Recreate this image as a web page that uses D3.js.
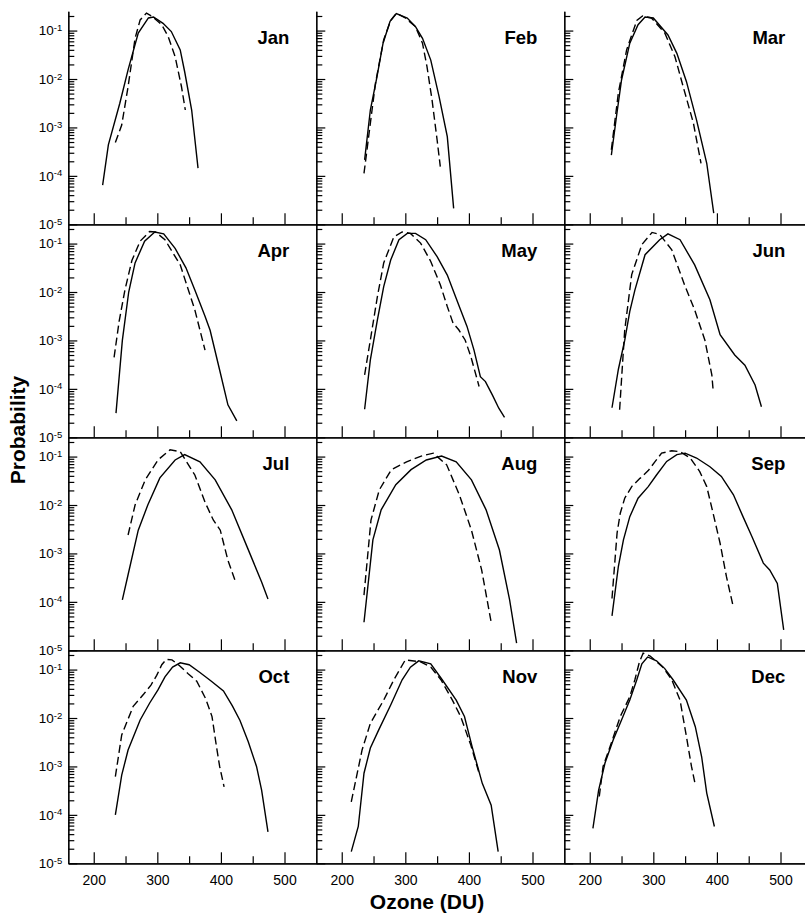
<!DOCTYPE html>
<html>
<head>
<meta charset="utf-8">
<script src="https://cdn.jsdelivr.net/npm/d3@7"></script>
<style>
  body { margin: 0; background: #fff; }
  svg { display: block; font-family: "Liberation Sans", Arial, Helvetica, sans-serif; }
</style>
</head>
<body>
<svg id="chart" width="805" height="914"></svg>
<script>
// points are [ozone DU, log10 probability]
const janSolid = [[214,-4.19],[223,-3.36],[241,-2.5],[254,-1.81],[270,-1.05],[286,-0.74],[294,-0.72],[309,-0.85],[322,-1.02],[336,-1.4],[343,-1.85],[354,-2.64],[364,-3.84]]
const janDashed = [[234,-3.31],[244,-2.95],[254,-2.16],[265,-1.16],[273,-0.78],[283,-0.64],[291,-0.70],[307,-0.88],[317,-1.12],[328,-1.54],[338,-2.16],[344,-2.64]]
const febSolid = [[236,-3.67],[245,-2.64],[255,-1.98],[265,-1.26],[276,-0.81],[286,-0.65],[303,-0.74],[316,-0.92],[327,-1.16],[340,-1.61],[353,-2.36],[366,-3.19],[376,-4.67]]
const febDashed = [[235,-3.95],[243,-3.12],[253,-2.09],[266,-1.19],[277,-0.79],[286,-0.64],[300,-0.74],[316,-0.92],[327,-1.26],[334,-1.74],[342,-2.43],[350,-3.26],[355,-3.81]]
const marSolid = [[234,-3.57],[242,-2.78],[250,-2.02],[263,-1.26],[276,-0.88],[287,-0.72],[300,-0.74],[323,-1.09],[337,-1.47],[352,-2.05],[368,-2.85],[384,-3.74],[395,-4.77]]
const marDashed = [[234,-3.46],[245,-2.29],[258,-1.40],[274,-0.79],[283,-0.70],[297,-0.74],[318,-1.05],[334,-1.54],[347,-2.16],[363,-2.91],[375,-3.74]]
const aprSolid = [[235,-4.5],[245,-3.0],[255,-2.0],[265,-1.4],[280,-0.95],[296,-0.76],[310,-0.80],[328,-1.1],[345,-1.5],[359,-1.96],[375,-2.5],[383,-2.79],[398,-3.61],[411,-4.33],[425,-4.66]]
const aprDashed = [[232,-3.35],[240,-2.6],[249,-1.96],[260,-1.35],[273,-0.95],[288,-0.75],[297,-0.76],[312,-0.92],[336,-1.44],[359,-2.37],[375,-3.2]]
const maySolid = [[236,-4.42],[245,-3.40],[256,-2.58],[266,-1.89],[277,-1.34],[290,-0.92],[303,-0.79],[316,-0.79],[332,-0.92],[350,-1.27],[366,-1.65],[379,-2.10],[387,-2.37],[397,-2.71],[408,-3.20],[418,-3.75],[426,-3.85],[437,-4.13],[447,-4.40],[456,-4.59]]
const mayDashed = [[236,-3.71],[245,-2.99],[256,-2.10],[266,-1.40],[282,-0.86],[295,-0.76],[308,-0.79],[324,-0.99],[340,-1.37],[355,-1.85],[366,-2.30],[375,-2.64],[384,-2.78],[394,-2.99],[403,-3.33],[416,-3.95]]
const junSolid = [[235,-4.39],[245,-3.6],[255,-3.0],[263,-2.4],[271,-1.96],[287,-1.23],[310,-0.92],[323,-0.80],[342,-0.92],[365,-1.44],[389,-2.16],[405,-2.88],[428,-3.30],[444,-3.51],[460,-3.92],[470,-4.37]]
const junDashed = [[247,-4.43],[251,-3.6],[255,-2.79],[266,-1.64],[282,-1.02],[298,-0.77],[310,-0.81],[329,-1.13],[349,-1.85],[365,-2.37],[381,-2.99],[392,-3.71],[394,-4.02]]
const julSolid = [[245,-3.96],[254,-3.44],[270,-2.52],[285,-2.0],[304,-1.44],[328,-1.07],[343,-0.96],[367,-1.11],[391,-1.48],[417,-2.10],[442,-2.89],[464,-3.59],[474,-3.94]]
const julDashed = [[254,-2.62],[265,-2.0],[281,-1.48],[301,-1.07],[320,-0.86],[336,-0.90],[359,-1.38],[375,-1.94],[388,-2.31],[399,-2.52],[411,-3.14],[422,-3.55]]
const augSolid = [[235,-4.42],[249,-2.72],[262,-2.10],[285,-1.58],[309,-1.27],[333,-1.07],[357,-0.99],[380,-1.11],[404,-1.48],[427,-2.10],[448,-2.93],[464,-3.96],[475,-4.85]]
const augDashed = [[235,-3.86],[246,-2.31],[259,-1.69],[278,-1.27],[302,-1.11],[325,-0.99],[344,-0.93],[365,-1.17],[385,-1.79],[404,-2.52],[420,-3.34],[435,-4.42]]
const sepSolid = [[235,-4.29],[245,-3.27],[253,-2.72],[263,-2.24],[276,-1.86],[292,-1.62],[305,-1.38],[321,-1.10],[337,-0.96],[350,-0.93],[368,-1.03],[389,-1.21],[407,-1.41],[426,-1.79],[441,-2.24],[455,-2.65],[473,-3.20],[483,-3.34],[495,-3.62],[505,-4.58]]
const sepDashed = [[235,-3.93],[243,-2.58],[248,-2.17],[255,-1.86],[266,-1.62],[279,-1.45],[292,-1.29],[303,-1.10],[313,-0.93],[329,-0.88],[342,-0.90],[358,-1.03],[373,-1.31],[384,-1.62],[394,-2.17],[405,-2.79],[415,-3.48],[425,-4.06]]
const octSolid = [[234,-4.0],[244,-3.18],[254,-2.66],[273,-2.04],[288,-1.69],[301,-1.42],[312,-1.15],[324,-0.95],[336,-0.86],[350,-0.90],[367,-1.06],[385,-1.24],[404,-1.44],[418,-1.75],[430,-2.05],[443,-2.49],[456,-3.0],[464,-3.49],[474,-4.35]]
const octDashed = [[234,-3.21],[244,-2.35],[262,-1.76],[279,-1.50],[290,-1.32],[299,-1.12],[307,-0.90],[314,-0.79],[323,-0.80],[335,-0.92],[348,-1.08],[362,-1.24],[376,-1.60],[386,-1.97],[393,-2.59],[398,-3.0],[405,-3.42]]
const novSolid = [[215,-4.76],[226,-4.24],[235,-3.14],[245,-2.62],[258,-2.25],[277,-1.73],[295,-1.21],[308,-0.95],[321,-0.82],[340,-0.88],[358,-1.21],[380,-1.63],[393,-1.97],[405,-2.59],[421,-3.35],[435,-3.80],[446,-4.76]]
const novDashed = [[215,-3.73],[232,-2.66],[245,-2.11],[266,-1.63],[282,-1.21],[300,-0.80],[324,-0.84],[340,-0.95],[356,-1.21],[374,-1.63],[387,-1.97],[403,-2.56],[416,-3.14]]
const decSolid = [[205,-4.28],[214,-3.49],[224,-2.93],[237,-2.45],[250,-2.04],[263,-1.63],[274,-1.21],[282,-0.88],[291,-0.74],[305,-0.82],[318,-0.98],[331,-1.21],[352,-1.63],[366,-2.18],[376,-2.80],[384,-3.55],[396,-4.24]]
const decDashed = [[215,-3.62],[221,-3.0],[232,-2.59],[248,-1.97],[263,-1.56],[271,-1.21],[278,-0.85],[284,-0.66],[295,-0.72],[315,-0.95],[329,-1.21],[342,-1.63],[352,-2.38],[360,-3.0],[366,-3.38]]

const months = ['Jan', 'Feb', 'Mar', 'Apr', 'May', 'Jun', 'Jul', 'Aug', 'Sep', 'Oct', 'Nov', 'Dec']
const solidSeries = [janSolid, febSolid, marSolid, aprSolid, maySolid, junSolid, julSolid, augSolid, sepSolid, octSolid, novSolid, decSolid]
const dashedSeries = [janDashed, febDashed, marDashed, aprDashed, mayDashed, junDashed, julDashed, augDashed, sepDashed, octDashed, novDashed, decDashed]

const xMajor = [200, 300, 400, 500]
const xMinor = [250, 350, 450]
const yMajor = [1e-1, 1e-2, 1e-3, 1e-4, 1e-5]
const yMinor = [2, 3, 4, 5, 6, 7, 8, 9].flatMap(m => [1e-5, 1e-4, 1e-3, 1e-2, 1e-1].map(d => m * d)).filter(v => v < 0.25)

const svg = d3.select('#chart')
const margin = { left: 68.3, top: 11.3 }
const panelW = 248, panelH = 213

const x = d3.scaleLinear().domain([160, 550]).range([0, panelW])
const y = d3.scaleLog().domain([1e-5, 0.25]).range([panelH, 0])
const line = d3.line().x(d => x(d[0])).y(d => y(Math.pow(10, d[1])))

months.forEach((m, i) => {
    const col = i % 3, row = Math.floor(i / 3)
    const g = svg.append('g')
        .attr('transform', `translate(${margin.left + col * panelW}, ${margin.top + row * panelH})`)

    // minor ticks first
    g.append('g').attr('class', 'axis')
        .call(d3.axisLeft(y).tickValues(yMinor).tickSizeInner(-6).tickSizeOuter(0).tickFormat(''))
    const ya = g.append('g').attr('class', 'axis yaxis')
        .call(d3.axisLeft(y).tickValues(yMajor).tickSizeInner(-9).tickSizeOuter(0).tickPadding(6))
    if (col === 0) {
        ya.selectAll('.tick text').each(function (d) {
            const t = d3.select(this)
            t.text('10')
            t.append('tspan').attr('dy', '-0.45em').attr('font-size', '9.5px').text(Math.round(Math.log10(d)))
        })
    } else {
        ya.selectAll('.tick text').remove()
    }

    g.append('g').attr('class', 'axis')
        .attr('transform', `translate(0, ${panelH})`)
        .call(d3.axisBottom(x).tickValues(xMinor).tickSizeInner(-7).tickSizeOuter(0).tickFormat(''))
    const xa = g.append('g').attr('class', 'axis xaxis')
        .attr('transform', `translate(0, ${panelH})`)
        .call(d3.axisBottom(x).tickValues(xMajor).tickSizeInner(-11).tickSizeOuter(0).tickPadding(12))
    if (row < 3) xa.selectAll('.tick text').remove()

    g.append('path').datum(solidSeries[i])
        .attr('d', line).attr('fill', 'none').attr('stroke', '#000').attr('stroke-width', 1.4)
    g.append('path').datum(dashedSeries[i])
        .attr('d', line).attr('fill', 'none').attr('stroke', '#000').attr('stroke-width', 1.4)
        .attr('stroke-dasharray', '8,4')

    g.append('text')
        .attr('x', 221).attr('y', 33)
        .attr('text-anchor', 'end')
        .attr('font-weight', 'bold').attr('font-size', '18.5px')
        .text(m)
})

svg.selectAll('.axis path, .axis line').attr('stroke', '#000').attr('stroke-width', 1.2)
svg.selectAll('.axis text').attr('fill', '#000')
svg.selectAll('.axis').attr('font-family', '"Liberation Sans", Arial, sans-serif')
svg.selectAll('.yaxis').attr('font-size', 13.5)
svg.selectAll('.xaxis').attr('font-size', 14)

svg.append('text')
    .attr('x', 427).attr('y', 909)
    .attr('text-anchor', 'middle')
    .attr('font-weight', 'bold').attr('font-size', '21px')
    .text('Ozone (DU)')

svg.append('text')
    .attr('transform', 'translate(25, 430) rotate(-90)')
    .attr('text-anchor', 'middle')
    .attr('font-weight', 'bold').attr('font-size', '21px')
    .text('Probability')
</script>
</body>
</html>
